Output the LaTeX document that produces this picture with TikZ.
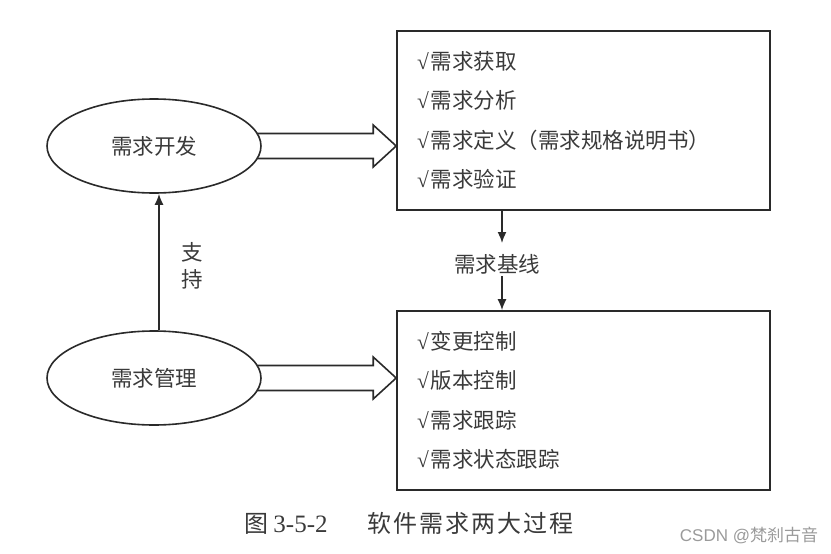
\documentclass[tikz,border=0pt]{standalone}
\usepackage{fontspec}
\setmainfont{Liberation Serif}
\setsansfont{Liberation Sans}
\newfontfamily\cjk{Noto Sans CJK SC}
\usetikzlibrary{calc,arrows.meta,backgrounds,shapes.geometric}
\definecolor{ink}{HTML}{2A2A2A}
\definecolor{txt}{HTML}{3A3A3A}
\definecolor{wmark}{HTML}{9A9A9A}
\newcommand{\tick}{{\rmfamily √}\kern2pt}
\begin{document}
\begin{tikzpicture}[x=1pt,y=-1pt,
  ell/.style={ellipse,draw=ink,line width=1.6pt,fill=white,minimum width=214pt,minimum height=94pt,inner sep=0pt,text=txt,font=\cjk\fontsize{21.5}{24}\selectfont},
  itembox/.style={rectangle,draw=ink,line width=1.6pt,minimum width=373pt,minimum height=179pt,inner xsep=20pt,text width=333pt,align=left,text=txt,font=\cjk\fontsize{21.5}{39.5}\selectfont},
  lbl/.style={text=txt,inner sep=0pt,font=\cjk\fontsize{21.5}{27}\selectfont,align=center},
  arr/.style={draw=ink,line width=1.6pt,-{Latex[length=11pt,width=9pt]}},
  fat/.style={draw=ink,line width=1.6pt,fill=white,line join=miter}
]
\useasboundingbox (0,0) rectangle (831,554);
\node[ell] (dev) at (154,146) {需求开发};
\node[ell] (mgmt) at (154,378) {需求管理};
\node[itembox] (req) at (583.5,120.5) {\tick 需求获取\\\tick 需求分析\\\tick 需求定义（需求规格说明书）\\\tick 需求验证};
\node[itembox] (ctl) at (583.5,400.5) {\tick 变更控制\\\tick 版本控制\\\tick 需求跟踪\\\tick 需求状态跟踪};
\node[lbl] (base) at (497,264) {需求基线};
\node[lbl] (sup) at (192,266) {支\\持};
\node[text=txt,inner sep=0pt] (cap) at (409,523) {{\cjk\fontsize{24}{28}\selectfont 图}\kern5pt{\fontsize{25}{28}\selectfont 3-5-2}\hspace{40pt}{\cjk\fontsize{24}{28}\selectfont 软\kern2pt 件\kern2pt 需\kern2pt 求\kern2pt 两\kern2pt 大\kern2pt 过\kern2pt 程}};
\node[text=wmark,inner sep=0pt] (wm) at (749,535) {{\sffamily\fontsize{17}{20}\selectfont CSDN @}{\cjk\fontsize{17}{20}\selectfont 梵刹古音}};
% fat arrows
\coordinate (t1) at (dev -| req.west);
\coordinate (t2) at (mgmt -| ctl.west);
\begin{scope}[on background layer]
\foreach \s/\t in {dev/t1,mgmt/t2}{
  \path[fat] ($(\s.center)+(80,-12.5)$) -- ($(\t)+(-23,-12.5)$) -- ($(\t)+(-23,-21)$) -- (\t) -- ($(\t)+(-23,21)$) -- ($(\t)+(-23,12.5)$) -- ($(\s.center)+(80,12.5)$);
}
\end{scope}
% support arrow
\draw[arr] ($(mgmt.north)+(5,0)$) -- ($(dev.south)+(5,0)$);
% baseline arrows
\coordinate (b1) at (502,243);
\coordinate (b2) at (502,276);
\draw[arr] (req.south -| b1) -- (b1);
\draw[arr] (b2) -- (ctl.north -| b2);
\end{tikzpicture}
\end{document}
